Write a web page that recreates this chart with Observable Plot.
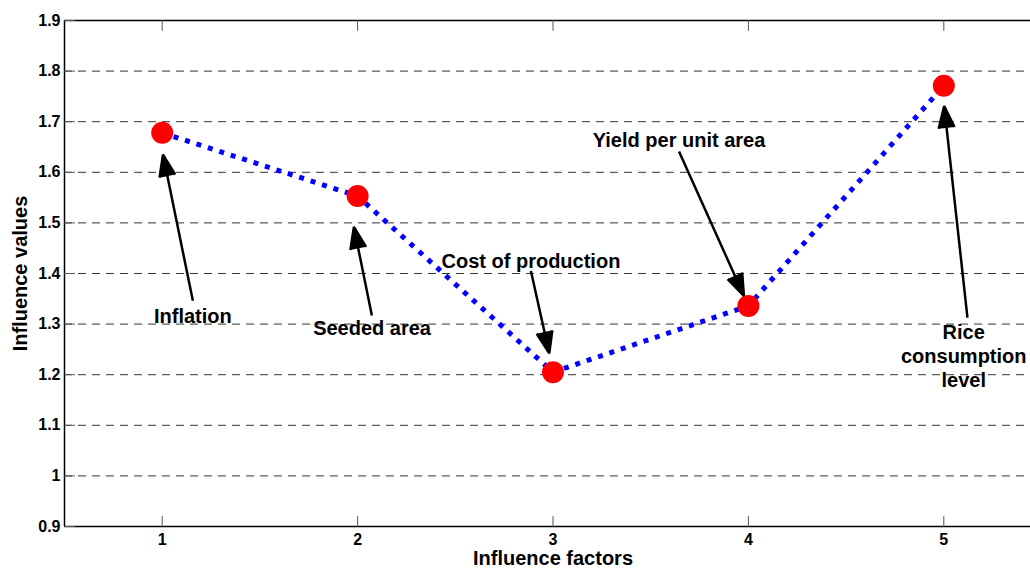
<!DOCTYPE html>
<html><head><meta charset="utf-8">
<script src="https://cdn.jsdelivr.net/npm/d3@7"></script>
<script src="https://cdn.jsdelivr.net/npm/@observablehq/plot@0.6"></script>
<style>html,body{margin:0;padding:0;background:#fff;overflow:hidden}</style>
</head><body><div id="chart"></div>
<script>
const factors = [1, 2, 3, 4, 5];
const influence = [1.678, 1.553, 1.205, 1.336, 1.771];
const labels = ["Inflation", "Seeded area", "Cost of production", "Yield per unit area", "Rice\nconsumption\nlevel"];
const labelX = [1.157, 2.074, 2.887, 3.645, 5.102];
const labelY = [1.317, 1.293, 1.427, 1.665, 1.238];
const arrowTailX = [1.157, 2.073, 2.887, 3.645, 5.121];
const arrowTailY = [1.346, 1.317, 1.405, 1.641, 1.313];
const arrowHeadX = [1.004, 1.981, 2.981, 3.977, 5.002];
const arrowHeadY = [1.635, 1.492, 1.242, 1.356, 1.731];
const xTicks = [1, 2, 3, 4, 5];
const xTickLabels = ["1", "2", "3", "4", "5"];
const yTicks = [0.9, 1, 1.1, 1.2, 1.3, 1.4, 1.5, 1.6, 1.7, 1.8, 1.9];
const yTickLabels = ["0.9", "1", "1.1", "1.2", "1.3", "1.4", "1.5", "1.6", "1.7", "1.8", "1.9"];
const gridY = [1, 1.1, 1.2, 1.3, 1.4, 1.5, 1.6, 1.7, 1.8];
const xLabel = "Influence factors";
const yLabel = "Influence values";

const points = factors.map((f, i) => ({x: f, y: influence[i]}));
const notes = labels.map((t, i) => ({t, x: labelX[i], y: labelY[i], x1: arrowTailX[i], y1: arrowTailY[i], x2: arrowHeadX[i], y2: arrowHeadY[i]}));
const xt = xTicks.map((v, i) => ({v, t: xTickLabels[i]}));
const yt = yTicks.map((v, i) => ({v, t: yTickLabels[i]}));

const tickShape = {draw(ctx, l) { ctx.moveTo(0, 0); ctx.lineTo(0, -l); }};
const font = "Liberation Sans, Arial, Helvetica, sans-serif";

const chart = Plot.plot({
  width: 1030,
  height: 569,
  marginLeft: 64,
  marginRight: -11,
  marginTop: 20,
  marginBottom: 43,
  style: {fontFamily: font, fontWeight: "bold", background: "#fff", color: "#000"},
  x: {domain: [0.5, 5.5], axis: null},
  y: {domain: [0.9, 1.9], axis: null},
  marks: [
    Plot.ruleY(gridY, {stroke: "#333", strokeWidth: 1, strokeDasharray: "8,6"}),
    Plot.ruleX([0.5], {stroke: "#000", strokeWidth: 1.5}),
    Plot.ruleY([0.9, 1.9], {stroke: "#000", strokeWidth: 1.5}),
    Plot.vector(xTicks, {x: d => d, frameAnchor: "bottom", length: 10, anchor: "start", rotate: 0, shape: tickShape, stroke: "#555", strokeWidth: 1}),
    Plot.vector(xTicks, {x: d => d, frameAnchor: "top", length: 10, anchor: "start", rotate: 180, shape: tickShape, stroke: "#555", strokeWidth: 1}),
    Plot.vector(yTicks, {y: d => d, frameAnchor: "left", length: 10, anchor: "start", rotate: 90, shape: tickShape, stroke: "#555", strokeWidth: 1}),
    Plot.text(xt, {x: "v", text: "t", frameAnchor: "bottom", lineAnchor: "middle", dy: 13, fontSize: 16, fontWeight: "bold", fill: "#000"}),
    Plot.text(yt, {y: "v", text: "t", frameAnchor: "left", textAnchor: "end", lineAnchor: "middle", dx: -4, fontSize: 16, fontWeight: "bold", fill: "#000"}),
    Plot.text([xLabel], {text: d => d, frameAnchor: "bottom", lineAnchor: "middle", dy: 32, fontSize: 20, fontWeight: "bold", fill: "#000"}),
    Plot.text([yLabel], {text: d => d, frameAnchor: "left", textAnchor: "middle", lineAnchor: "middle", rotate: -90, dx: -44, fontSize: 20, fontWeight: "bold", fill: "#000"}),
    Plot.line(points, {x: "x", y: "y", stroke: "#0000ff", strokeWidth: 5, strokeDasharray: "5,7", strokeLinecap: "butt"}),
    Plot.dot(points, {x: "x", y: "y", r: 11, fill: "#ff0000", stroke: "none"}),
    Plot.arrow(notes, {x1: "x1", y1: "y1", x2: "x2", y2: "y2", stroke: "#000", fill: "#000", strokeWidth: 2.5, headLength: 14, headAngle: 40, strokeLinecap: "butt", strokeLinejoin: "miter"}),
    Plot.text(notes, {x: "x", y: "y", text: "t", fontSize: 20, fontWeight: "bold", lineHeight: 1.2, fill: "#000"})
  ]
});
document.getElementById("chart").appendChild(chart);
</script>
</body></html>
